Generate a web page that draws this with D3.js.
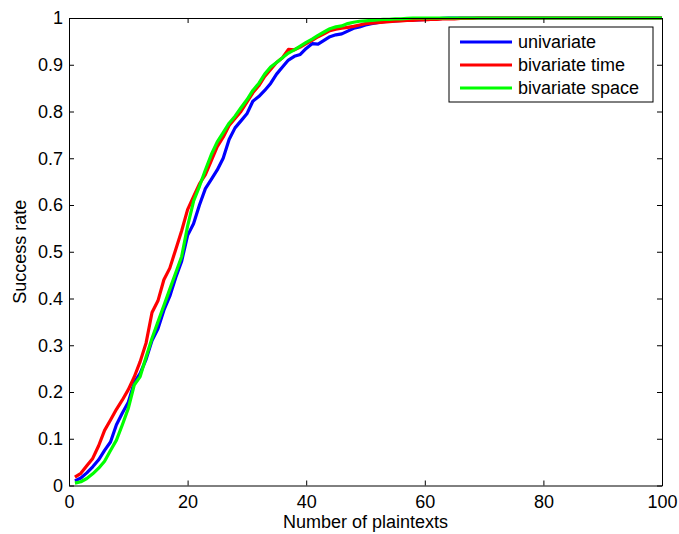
<!DOCTYPE html>
<html>
<head>
<meta charset="utf-8">
<script src="https://cdn.jsdelivr.net/npm/d3@7"></script>
<style>
  body { margin: 0; background: #fff; }
  svg text { font-family: "Liberation Sans", Arial, Helvetica, sans-serif; fill: #000; }
</style>
</head>
<body>
<div id="chart"></div>
<script>
// number of plaintexts, 1..100
const plaintexts = d3.range(1, 101);

const univariate = [
  0.010, 0.016, 0.027, 0.040, 0.055, 0.075, 0.093, 0.130, 0.155, 0.178,
  0.220, 0.240, 0.270, 0.310, 0.335, 0.375, 0.405, 0.445, 0.480, 0.535,
  0.560, 0.600, 0.635, 0.655, 0.675, 0.700, 0.740, 0.765, 0.780, 0.795,
  0.822, 0.832, 0.845, 0.860, 0.880, 0.895, 0.910, 0.918, 0.922, 0.935,
  0.945, 0.944, 0.952, 0.960, 0.964, 0.966, 0.972, 0.978, 0.981, 0.985,
  0.988, 0.990, 0.992, 0.993, 0.994, 0.995, 0.995, 0.996, 0.996, 0.997,
  0.998, 0.998, 0.999, 1.000, 1.000, 1.000, 1.000, 1.000, 1.000, 1.000,
  1.000, 1.000, 1.000, 1.000, 1.000, 1.000, 1.000, 1.000, 1.000, 1.000,
  1.000, 1.000, 1.000, 1.000, 1.000, 1.000, 1.000, 1.000, 1.000, 1.000,
  1.000, 1.000, 1.000, 1.000, 1.000, 1.000, 1.000, 1.000, 1.000, 1.000
];

const bivariateTime = [
  0.018, 0.026, 0.042, 0.058, 0.085, 0.118, 0.140, 0.163, 0.183, 0.205,
  0.232, 0.265, 0.305, 0.370, 0.395, 0.440, 0.465, 0.505, 0.545, 0.590,
  0.618, 0.645, 0.665, 0.695, 0.725, 0.745, 0.770, 0.785, 0.800, 0.820,
  0.840, 0.855, 0.875, 0.890, 0.905, 0.915, 0.933, 0.932, 0.938, 0.945,
  0.952, 0.960, 0.966, 0.973, 0.976, 0.978, 0.980, 0.982, 0.985, 0.988,
  0.989, 0.990, 0.991, 0.992, 0.993, 0.994, 0.995, 0.995, 0.996, 0.996,
  0.997, 0.997, 0.998, 0.998, 0.998, 0.999, 0.999, 0.999, 1.000, 1.000,
  1.000, 1.000, 1.000, 1.000, 1.000, 1.000, 1.000, 1.000, 1.000, 1.000,
  1.000, 1.000, 1.000, 1.000, 1.000, 1.000, 1.000, 1.000, 1.000, 1.000,
  1.000, 1.000, 1.000, 1.000, 1.000, 1.000, 1.000, 1.000, 1.000, 1.000
];

const bivariateSpace = [
  0.005, 0.008, 0.015, 0.025, 0.037, 0.052, 0.075, 0.097, 0.130, 0.165,
  0.215, 0.233, 0.275, 0.315, 0.350, 0.385, 0.420, 0.455, 0.490, 0.555,
  0.608, 0.640, 0.675, 0.708, 0.735, 0.755, 0.775, 0.790, 0.808, 0.825,
  0.845, 0.860, 0.880, 0.895, 0.905, 0.915, 0.925, 0.932, 0.940, 0.948,
  0.955, 0.963, 0.970, 0.977, 0.981, 0.983, 0.988, 0.991, 0.993, 0.994,
  0.995, 0.996, 0.997, 0.997, 0.998, 0.998, 0.999, 1.000, 1.000, 1.000,
  1.000, 1.000, 1.000, 1.000, 1.000, 1.000, 1.000, 1.000, 1.000, 1.000,
  1.000, 1.000, 1.000, 1.000, 1.000, 1.000, 1.000, 1.000, 1.000, 1.000,
  1.000, 1.000, 1.000, 1.000, 1.000, 1.000, 1.000, 1.000, 1.000, 1.000,
  1.000, 1.000, 1.000, 1.000, 1.000, 1.000, 1.000, 1.000, 1.000, 1.000
];

const seriesNames = ['univariate', 'bivariate time', 'bivariate space'];
const seriesColors = ['#0000ff', '#ff0000', '#00ff00'];
const xTicks = [0, 20, 40, 60, 80, 100];
const yTicks = [0, 0.1, 0.2, 0.3, 0.4, 0.5, 0.6, 0.7, 0.8, 0.9, 1];

const W = 679, H = 534;
const margin = {top: 18, right: 17, bottom: 48.5, left: 69};
const width = W - margin.left - margin.right;
const height = H - margin.top - margin.bottom;
const fontSize = '18px';

const svg = d3.select('#chart').append('svg')
  .attr('width', W)
  .attr('height', H);

const g = svg.append('g')
  .attr('transform', 'translate(' + margin.left + ',' + margin.top + ')');

const x = d3.scaleLinear().domain([0, 100]).range([0, width]);
const y = d3.scaleLinear().domain([0, 1]).range([height, 0]);

// clip so lines at 1.0 don't spill over the top border
svg.append('defs').append('clipPath').attr('id', 'plotclip')
  .append('rect').attr('x', 0).attr('y', -2).attr('width', width).attr('height', height + 2);

const series = [univariate, bivariateTime, bivariateSpace];
const line = d3.line()
  .x((d, i) => x(plaintexts[i]))
  .y(d => y(d));

const lines = g.append('g').attr('clip-path', 'url(#plotclip)');
series.forEach((s, k) => {
  lines.append('path')
    .datum(s)
    .attr('fill', 'none')
    .attr('stroke', seriesColors[k])
    .attr('stroke-width', 3.2)
    .attr('stroke-linejoin', 'round')
    .attr('d', line);
});

// axes, matlab style: ticks inside, box all round
const fmt = d => d3.format('')(d);
g.append('g')
  .attr('transform', 'translate(0,' + height + ')')
  .call(d3.axisBottom(x).tickValues(xTicks).tickSizeInner(-5).tickSizeOuter(0).tickPadding(10).tickFormat(fmt));
g.append('g')
  .call(d3.axisLeft(y).tickValues(yTicks).tickSizeInner(-5).tickSizeOuter(0).tickPadding(6).tickFormat(fmt));
g.append('g')
  .call(d3.axisTop(x).tickValues(xTicks).tickSizeInner(-5).tickSizeOuter(0).tickFormat(''));
g.append('g')
  .attr('transform', 'translate(' + width + ',0)')
  .call(d3.axisRight(y).tickValues(yTicks).tickSizeInner(-5).tickSizeOuter(0).tickFormat(''));

g.selectAll('.domain').attr('stroke', '#000').attr('stroke-width', 1);
g.selectAll('.tick line').attr('stroke', '#000');
g.selectAll('.tick text').style('font-size', fontSize);

// axis labels
svg.append('text')
  .attr('x', margin.left + width / 2)
  .attr('y', 528)
  .attr('text-anchor', 'middle')
  .style('font-size', fontSize)
  .text('Number of plaintexts');

svg.append('text')
  .attr('transform', 'translate(26,' + (margin.top + height / 2) + ') rotate(-90)')
  .attr('text-anchor', 'middle')
  .style('font-size', fontSize)
  .text('Success rate');

// legend
const legend = svg.append('g').attr('transform', 'translate(449,27)');
legend.append('rect')
  .attr('width', 204)
  .attr('height', 75)
  .attr('fill', '#fff')
  .attr('stroke', '#000')
  .attr('stroke-width', 1);
seriesNames.forEach((name, k) => {
  const ly = 15 + k * 23;
  legend.append('line')
    .attr('x1', 11).attr('x2', 63)
    .attr('y1', ly).attr('y2', ly)
    .attr('stroke', seriesColors[k])
    .attr('stroke-width', 3.2);
  legend.append('text')
    .attr('x', 69)
    .attr('y', ly)
    .attr('dy', '0.35em')
    .style('font-size', fontSize)
    .text(name);
});
</script>
</body>
</html>
